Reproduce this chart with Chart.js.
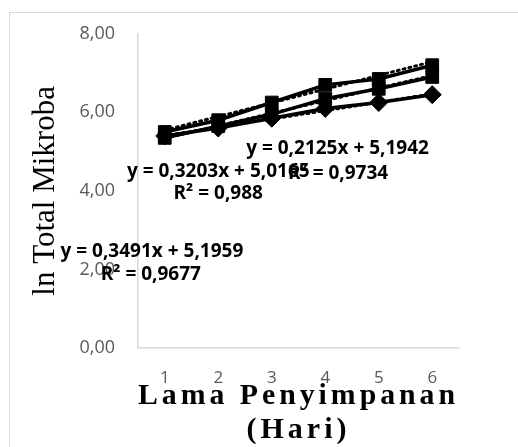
<!DOCTYPE html>
<html>
<head>
<meta charset="UTF-8">
<title>ln Total Mikroba</title>
<script src="https://cdn.jsdelivr.net/npm/chart.js"></script>
<style>
  html, body { margin: 0; padding: 0; background: #fff; overflow: hidden; }
  #wrap { position: relative; width: 518px; height: 447px; }
  #frame { position: absolute; left: 9px; top: 12px; width: 520px; height: 450px; border: 1px solid #d9d9d9; box-sizing: border-box; }
  canvas { position: absolute; left: 0; top: 0; }
</style>
</head>
<body>
<div id="wrap">
  <div id="frame"></div>
  <canvas id="chart" width="518" height="447"></canvas>
</div>
<script>
// data
const days = ["1", "2", "3", "4", "5", "6"];
const seriesA = [5.50, 5.80, 6.25, 6.70, 6.85, 7.20];
const seriesB = [5.35, 5.65, 5.95, 6.35, 6.60, 6.90];
const seriesC = [5.40, 5.60, 5.85, 6.10, 6.25, 6.45];
// linear trend lines, values taken from the printed equations
const trendA = [5.545, 5.894, 6.243, 6.592, 6.941, 7.291];
const trendB = [5.337, 5.657, 5.977, 6.298, 6.618, 6.938];
const trendC = [5.407, 5.619, 5.832, 6.044, 6.257, 6.469];
const yTicks = [0, 2, 4, 6, 8];

const labels = [
  { text: "y = 0,3491x + 5,1959", x: -0.24, y: 2.45 },
  { text: "R² = 0,9677", x: -0.26, y: 1.88 },
  { text: "y = 0,3203x + 5,0165", x: 1.0, y: 4.5 },
  { text: "R² = 0,988", x: 1.0, y: 3.93 },
  { text: "y = 0,2125x + 5,1942", x: 3.23, y: 5.08 },
  { text: "R² = 0,9734", x: 3.24, y: 4.44 }
];

const fmt = (v) => v.toFixed(2).replace(".", ",");

// equation / R² labels, placed through the scales
const eqLabels = {
  id: "eqLabels",
  afterDatasetsDraw(chart) {
    const { ctx, scales: { x, y } } = chart;
    ctx.save();
    ctx.font = "bold 19px 'Open Sans'";
    ctx.fillStyle = "#000";
    ctx.textAlign = "center";
    ctx.textBaseline = "middle";
    labels.forEach((l) => {
      ctx.fillText(l.text, x.getPixelForValue(l.x), y.getPixelForValue(l.y));
    });
    ctx.restore();
  }
};

// spaced-out letters for the x axis title
const spacedTitle = {
  id: "spacedTitle",
  afterLayout(chart) {
    const s = chart.scales.x;
    if (s._spaced) return;
    const orig = s.drawTitle;
    s.drawTitle = function () {
      this.ctx.save();
      this.ctx.letterSpacing = "4px";
      orig.call(this);
      this.ctx.restore();
    };
    s._spaced = true;
  }
};

const line = (data, style) => ({
  data,
  borderColor: "#000",
  backgroundColor: "#000",
  borderWidth: 3.5,
  pointStyle: style,
  pointRadius: 9,
  pointBorderWidth: 1,
  tension: 0
});
const trend = (data) => ({
  data,
  borderColor: "#000",
  borderWidth: 3,
  borderDash: [2, 4],
  borderCapStyle: "round",
  pointRadius: 0,
  tension: 0
});

new Chart(document.getElementById("chart"), {
  type: "line",
  data: {
    labels: days,
    datasets: [
      line(seriesA, "rect"),
      line(seriesB, "rect"),
      line(seriesC, "rectRot"),
      trend(trendA),
      trend(trendB),
      trend(trendC)
    ]
  },
  options: {
    responsive: false,
    animation: false,
    layout: { padding: { left: 0, top: 32, right: 59, bottom: 0 } },
    plugins: { legend: { display: false }, tooltip: { enabled: false } },
    scales: {
      x: {
        offset: true,
        grid: { display: false, drawTicks: false, offset: true },
        border: { display: true, color: "#d9d9d9", width: 1.5 },
        ticks: { color: "#595959", font: { family: "'Open Sans'", size: 17 }, padding: 20 },
        title: {
          display: true,
          text: ["Lama Penyimpanan", "(Hari)"],
          color: "#000",
          font: { family: "'Liberation Serif'", size: 30, weight: "bold", lineHeight: 1.12 },
          padding: { top: 0, bottom: 0 }
        },
        afterFit(s) { s.height = 99; }
      },
      y: {
        min: 0,
        max: 8,
        afterBuildTicks(s) { s.ticks = yTicks.map((v) => ({ value: v })); },
        grid: { display: false, drawTicks: false },
        border: { display: true, color: "#d9d9d9", width: 1.5 },
        ticks: { color: "#595959", font: { family: "'Open Sans'", size: 18 }, padding: 23, callback: (v) => fmt(v) },
        title: {
          display: true,
          text: "ln Total Mikroba",
          color: "#000",
          font: { family: "'Liberation Serif'", size: 31, lineHeight: 1.2 },
          padding: { top: 27, bottom: 0 }
        },
        afterFit(s) { s.width = 138; }
      }
    }
  },
  plugins: [eqLabels, spacedTitle]
});
</script>
</body>
</html>
